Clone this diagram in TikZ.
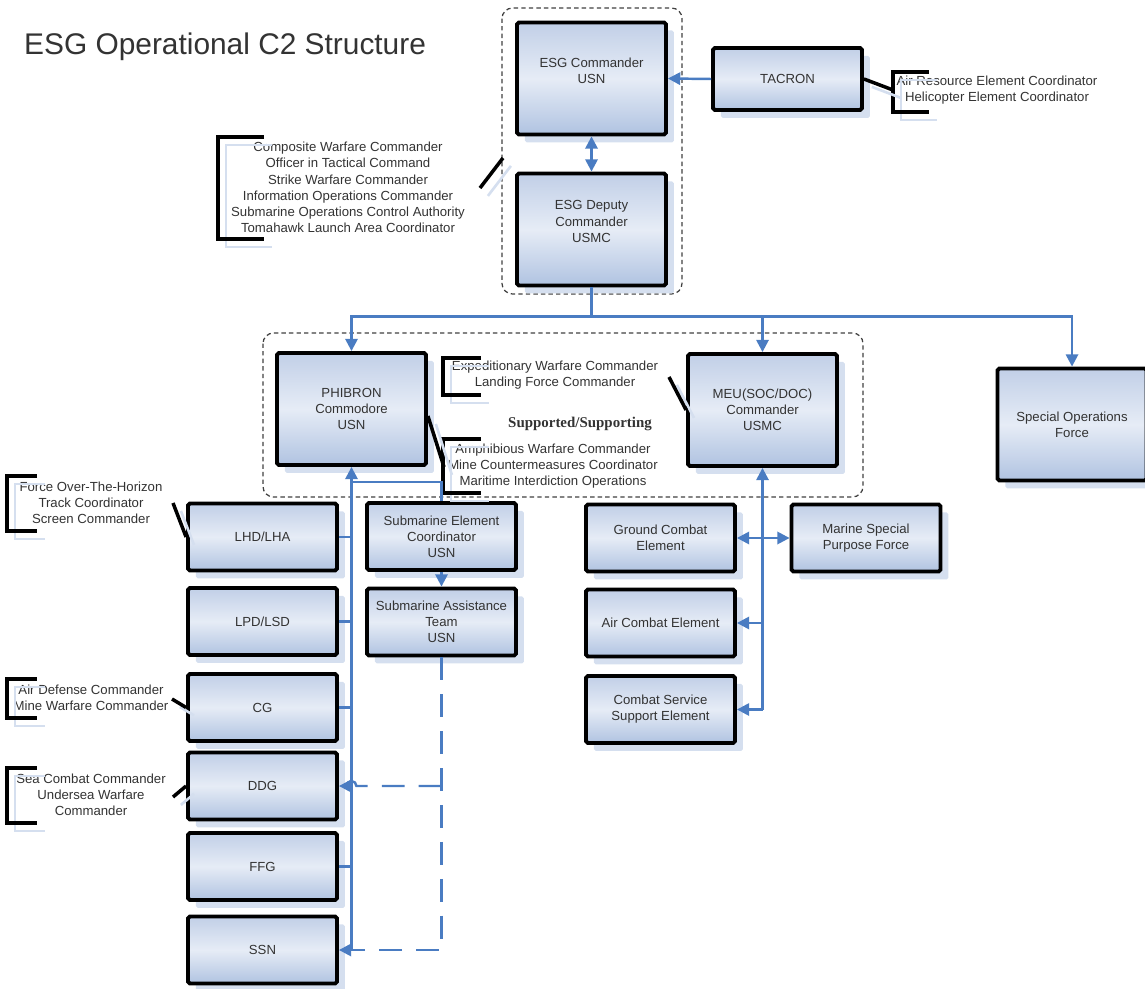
\documentclass[tikz,border=0pt]{standalone}
\usepackage{fontspec}
\setmainfont{Liberation Sans}
\newfontfamily\timesfont{Liberation Serif}
\usetikzlibrary{arrows.meta,shadows}

\definecolor{linkblue}{HTML}{4A7CC2}
\definecolor{shadeblue}{HTML}{D5DFEF}
\definecolor{boxtop}{HTML}{C1CFE7}
\definecolor{boxmid}{HTML}{E6ECF6}
\definecolor{boxbot}{HTML}{B0C3E1}
\definecolor{textgray}{HTML}{333333}

\begin{document}
\begin{tikzpicture}[x=0.02cm,y=-0.02cm,
  >={Triangle[length=7pt,width=7pt]},
  every node/.style={text=textgray,font=\fontsize{7.5}{9.2}\selectfont},
  unit/.style={draw=black,line width=2.2pt,rounded corners=1pt,align=center,
    top color=boxtop,bottom color=boxbot,middle color=boxmid,
    minimum width=2.98cm,inner sep=2pt,
    drop shadow={shadow xshift=4.5pt,shadow yshift=-4.5pt,fill=shadeblue,opacity=1}},
  tallunit/.style={unit,minimum height=2.24cm},
  smallunit/.style={unit,minimum height=1.34cm},
  conn/.style={draw=linkblue,line width=1.4pt},
  subconn/.style={conn,dash pattern=on 13pt off 8pt},
  brk/.style={draw=black,line width=2pt,
    preaction={draw=shadeblue,line width=1.5pt,transform canvas={xshift=4.5pt,yshift=-4.5pt}}},
  group/.style={draw=black!75,line width=0.7pt,dash pattern=on 2.5pt off 1.8pt,rounded corners=6pt},
  note/.style={align=center,inner sep=0pt}]
  \useasboundingbox (0,0) rectangle (1145,989);

  % title
  \node[anchor=west,font=\fontsize{17}{20}\selectfont] (title) at (18,47) {ESG Operational C2 Structure};

  % dashed groups
  \draw[group] (502,8) rectangle (682,294);
  \draw[group] (263,333) rectangle (863,497);

  % command level
  \node[tallunit] (esgcdr) at (591.5,78.5) {ESG Commander\\USN\\\mbox{}};
  \node[tallunit] (esgdep) at (591.5,229.5) {ESG Deputy\\Commander\\USMC\\\mbox{}};
  \node[unit,minimum height=1.24cm] (tacron) at (787.5,79) {TACRON};
  \node[tallunit] (phib) at (351.5,409) {PHIBRON\\Commodore\\USN};
  \node[tallunit] (meu) at (762.5,410) {MEU(SOC/DOC)\\Commander\\USMC};
  \node[tallunit] (sof) at (1072,424.5) {Special Operations\\Force};

  % ships
  \foreach \n/\t/\y in {lhd/{LHD/LHA}/537, lpd/{LPD/LSD}/621.5, cg/CG/707.5, ddg/DDG/786, ffg/FFG/866.5, ssn/SSN/950}
    \node[smallunit] (\n) at (262.5,\y) {\t};

  \node[smallunit] (sec) at (441.5,536.5) {Submarine Element\\Coordinator\\USN};
  \node[smallunit] (sat) at (441.5,622) {Submarine Assistance\\Team\\USN};
  \node[smallunit] (gce) at (660.5,538) {Ground Combat\\Element};
  \node[smallunit] (mspf) at (866,538) {Marine Special\\Purpose Force};
  \node[smallunit] (ace) at (660.5,623) {Air Combat Element};
  \node[smallunit] (csse) at (660.5,709.5) {Combat Service\\Support Element};

  % role notes
  \node[note] (cwc) at (348,187.5) {Composite Warfare Commander\\Officer in Tactical Command\\Strike Warfare Commander\\Information Operations Commander\\Submarine Operations Control Authority\\Tomahawk Launch Area Coordinator};
  \node[note] (arec) at (997,90) {Air Resource Element Coordinator\\Helicopter Element Coordinator};
  \node[note] (ewc) at (555,375) {Expeditionary Warfare Commander\\Landing Force Commander};
  \node[note] (awc) at (553,466) {Amphibious Warfare Commander\\Mine Countermeasures Coordinator\\Maritime Interdiction Operations};
  \node[note] (fotc) at (91,503) {Force Over-The-Horizon\\Track Coordinator\\Screen Commander};
  \node[note] (adc) at (91,698) {Air Defense Commander\\Mine Warfare Commander};
  \node[note] (scc) at (91,795) {Sea Combat Commander\\Undersea Warfare\\Commander};
  \node[font=\timesfont\bfseries\fontsize{8.5}{10}\selectfont] (supp) at (580,424) {Supported/Supporting};

  % brackets
  \foreach \x/\ya/\yb/\w in {218/137/239/46, 893/72/112/36, 443/358/395/38, 443/439/493/38, 7/476/531/30, 7/679/718/30, 7/768/823/30}
    \draw[brk] (\x+\w,\ya) -- (\x,\ya) -- (\x,\yb) -- (\x+\w,\yb);

  % leaders
  \coordinate (cwcL) at (480,188);
  \coordinate (cwcR) at (503,158);
  \coordinate (arecL) at (893,90);
  \coordinate (ewcL) at (669,377);
  \coordinate (awcL) at (444,467);
  \coordinate (fotcL) at (173,503);
  \coordinate (adcL) at (172,699);
  \coordinate (sccL) at (173,797);
  \draw[brk] (cwcL) -- (cwcR);
  \draw[brk] (tacron.east) -- (arecL);
  \draw[brk] (ewcL) -- (meu.west);
  \draw[brk] ([yshift=-4pt]phib.east) -- (awcL);
  \draw[brk] (fotcL) -- (lhd.west);
  \draw[brk] (adcL) -- (cg.west);
  \draw[brk] (sccL) -- (ddg.west);

  % chain of command
  \draw[conn,->] (tacron.west) -- (esgcdr.east);
  \draw[conn,<->] (esgcdr.south) -- (esgdep.north);
  \draw[conn] (esgdep.south) -- ++(0,29) coordinate (bus);
  \foreach \n in {phib,meu,sof}
    \draw[conn,->] (bus) -| (\n.north);

  % PHIBRON side
  \draw[conn,->] (phib.south |- ssn.east) -- (phib.south);
  \foreach \n in {lhd,lpd,cg,ffg}
    \draw[conn] (\n.east) -- (\n.east -| phib.south);
  \draw[conn] (phib.south) ++(0,15) -| (sec.north);
  \draw[conn,->] (sec.south) -- (sat.north);
  \draw[subconn,->] (sat.south) |- (ssn.east);
  \coordinate (hop) at (phib.south |- ddg.east);
  \draw[subconn,->] (sat.south |- ddg.east) -- ([xshift=2.8pt]hop)
    arc[start angle=0,end angle=180,radius=2.8pt] -- (ddg.east);

  % MEU side
  \draw[conn,->] (meu.south |- csse.east) -- (meu.south);
  \foreach \n in {ace,csse}
    \draw[conn,->] (meu.south |- \n.east) -- (\n.east);
  \draw[conn,<->] (gce.east) -- (mspf.west);
\end{tikzpicture}
\end{document}
